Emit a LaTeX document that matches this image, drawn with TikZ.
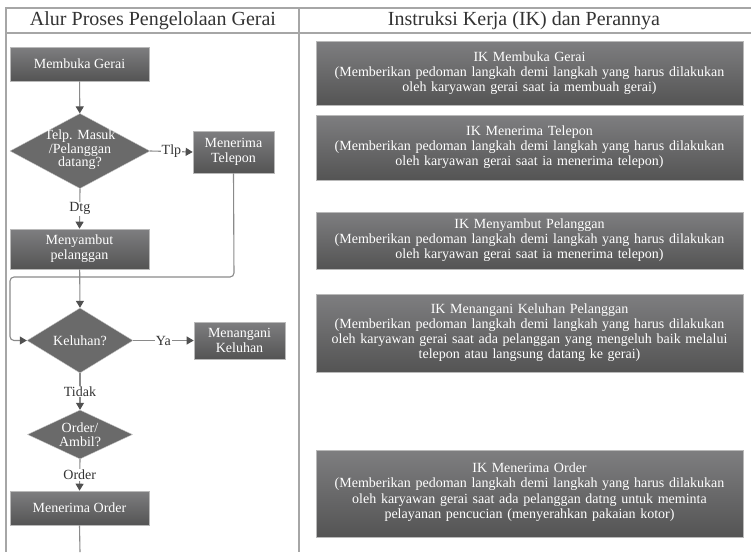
\documentclass[tikz,border=0pt]{standalone}
\usepackage{fontspec}
\setmainfont{Liberation Serif}
\usetikzlibrary{shapes.geometric,arrows.meta}
\definecolor{framegray}{HTML}{A6A6A6}
\definecolor{boxtop}{HTML}{7E7E80}
\definecolor{boxbot}{HTML}{545454}
\definecolor{decfill}{HTML}{6A6A6A}
\definecolor{linegray}{HTML}{8A8A8A}
\definecolor{tipgray}{HTML}{505050}
\definecolor{inkgray}{HTML}{333333}
\tikzset{
  frameline/.style={draw=framegray, line width=1.3pt},
  headtext/.style={text=inkgray, font=\fontsize{20}{22}\selectfont},
  procbox/.style={rectangle, draw=gray!55, line width=0.6pt, top color=boxtop, bottom color=boxbot,
    text=white, align=center, inner sep=0pt, font=\fontsize{14}{15}\selectfont},
  ikbox/.style={procbox, minimum width=427pt, text width=425pt},
  decision/.style={diamond, fill=decfill, draw=gray!45, line width=0.4pt, inner sep=0pt},
  dectext/.style={text=white, align=center, font=\fontsize{14}{13.5}\selectfont},
  flow/.style={draw=linegray, line width=1.1pt, -{Triangle[length=7pt,width=8pt,color=tipgray]}},
  plainflow/.style={draw=linegray, line width=1.1pt},
  flowlabel/.style={fill=white, text=inkgray, inner sep=1pt, font=\fontsize{14}{15}\selectfont}
}
\begin{document}
\begin{tikzpicture}[x=1pt, y=-1pt]
\useasboundingbox (0,0) rectangle (751,552);

% table frame and column headers
\draw[frameline] (5,8) -- (751,8);
\draw[frameline] (5,33) -- (751,33);
\draw[frameline] (6,8) -- (6,552);
\draw[frameline] (299,8) -- (299,552);
\node[headtext] (hleft) at (153,21) {Alur Proses Pengelolaan Gerai};
\node[headtext] (hright) at (524,21) {Instruksi Kerja (IK) dan Perannya};

% process flow
\node[procbox, minimum width=139pt, minimum height=34pt] (open) at (79.5,64) {Membuka Gerai};
\node[decision, minimum width=140pt, minimum height=75pt] (d1) at (80,151) {};
\node[dectext] (d1t) at (80,150) {Telp. Masuk\\/Pelanggan\\datang?};
\node[procbox, minimum width=81pt, minimum height=42pt] (phone) at (233.5,152) {Menerima\\Telepon};
\node[procbox, minimum width=139pt, minimum height=40pt] (greet) at (79.5,249) {Menyambut\\pelanggan};
\node[decision, minimum width=106pt, minimum height=65pt] (d2) at (80,340.5) {};
\node[dectext] (d2t) at (80,340.5) {Keluhan?};
\node[procbox, minimum width=91pt, minimum height=37pt] (complaint) at (239.5,340.5) {Menangani\\Keluhan};
\node[decision, minimum width=105pt, minimum height=49pt] (d3) at (80,434.5) {};
\node[dectext] (d3t) at (80,434.5) {Order/\\Ambil?};
\node[procbox, minimum width=139pt, minimum height=34pt] (order) at (79.5,508) {Menerima Order};
\coordinate (down) at (80,552);
\coordinate (loopa) at (234,277);
\coordinate (loopb) at (10,277);
\coordinate (loopc) at (10,340.5);

\draw[flow] (open) -- (d1);
\draw[flow] (d1.east) -- node[flowlabel] {Tlp} (phone.west);
\draw[flow] (d1.south) -- node[flowlabel] {Dtg} (greet.north);
\draw[flow] (greet) -- (d2.north);
\draw[flow, rounded corners=4pt] (phone.south) -- (loopa) -- (loopb) -- (loopc) -- (d2.west);
\draw[flow] (d2.east) -- node[flowlabel] {Ya} (complaint.west);
\draw[flow] (d2.south) -- node[flowlabel] {Tidak} (d3.north);
\draw[flow] (d3.south) -- node[flowlabel] {Order} (order.north);
\draw[plainflow] (order.south) -- (down);

% work instructions
\node[ikbox, minimum height=64pt] (ik1) at (529.5,73) {IK Membuka Gerai\\(Memberikan pedoman langkah demi langkah yang harus dilakukan\\oleh karyawan gerai saat ia membuah gerai)};
\node[ikbox, minimum height=65pt] (ik2) at (529.5,147.5) {IK Menerima Telepon\\(Memberikan pedoman langkah demi langkah yang harus dilakukan\\oleh karyawan gerai saat ia menerima telepon)};
\node[ikbox, minimum height=57pt] (ik3) at (529.5,240.5) {IK Menyambut Pelanggan\\(Memberikan pedoman langkah demi langkah yang harus dilakukan\\oleh karyawan gerai saat ia menerima telepon)};
\node[ikbox, minimum height=78pt] (ik4) at (529.5,333) {IK Menangani Keluhan Pelanggan\\(Memberikan pedoman langkah demi langkah yang harus dilakukan\\oleh karyawan gerai saat ada pelanggan yang mengeluh baik melalui\\telepon atau langsung datang ke gerai)\\[4pt]};
\node[ikbox, minimum height=87pt] (ik5) at (529.5,493.5) {\\[-8pt]IK Menerima Order\\(Memberikan pedoman langkah demi langkah yang harus dilakukan\\oleh karyawan gerai saat ada pelanggan datng untuk meminta\\pelayanan pencucian (menyerahkan pakaian kotor)};
\end{tikzpicture}
\end{document}
